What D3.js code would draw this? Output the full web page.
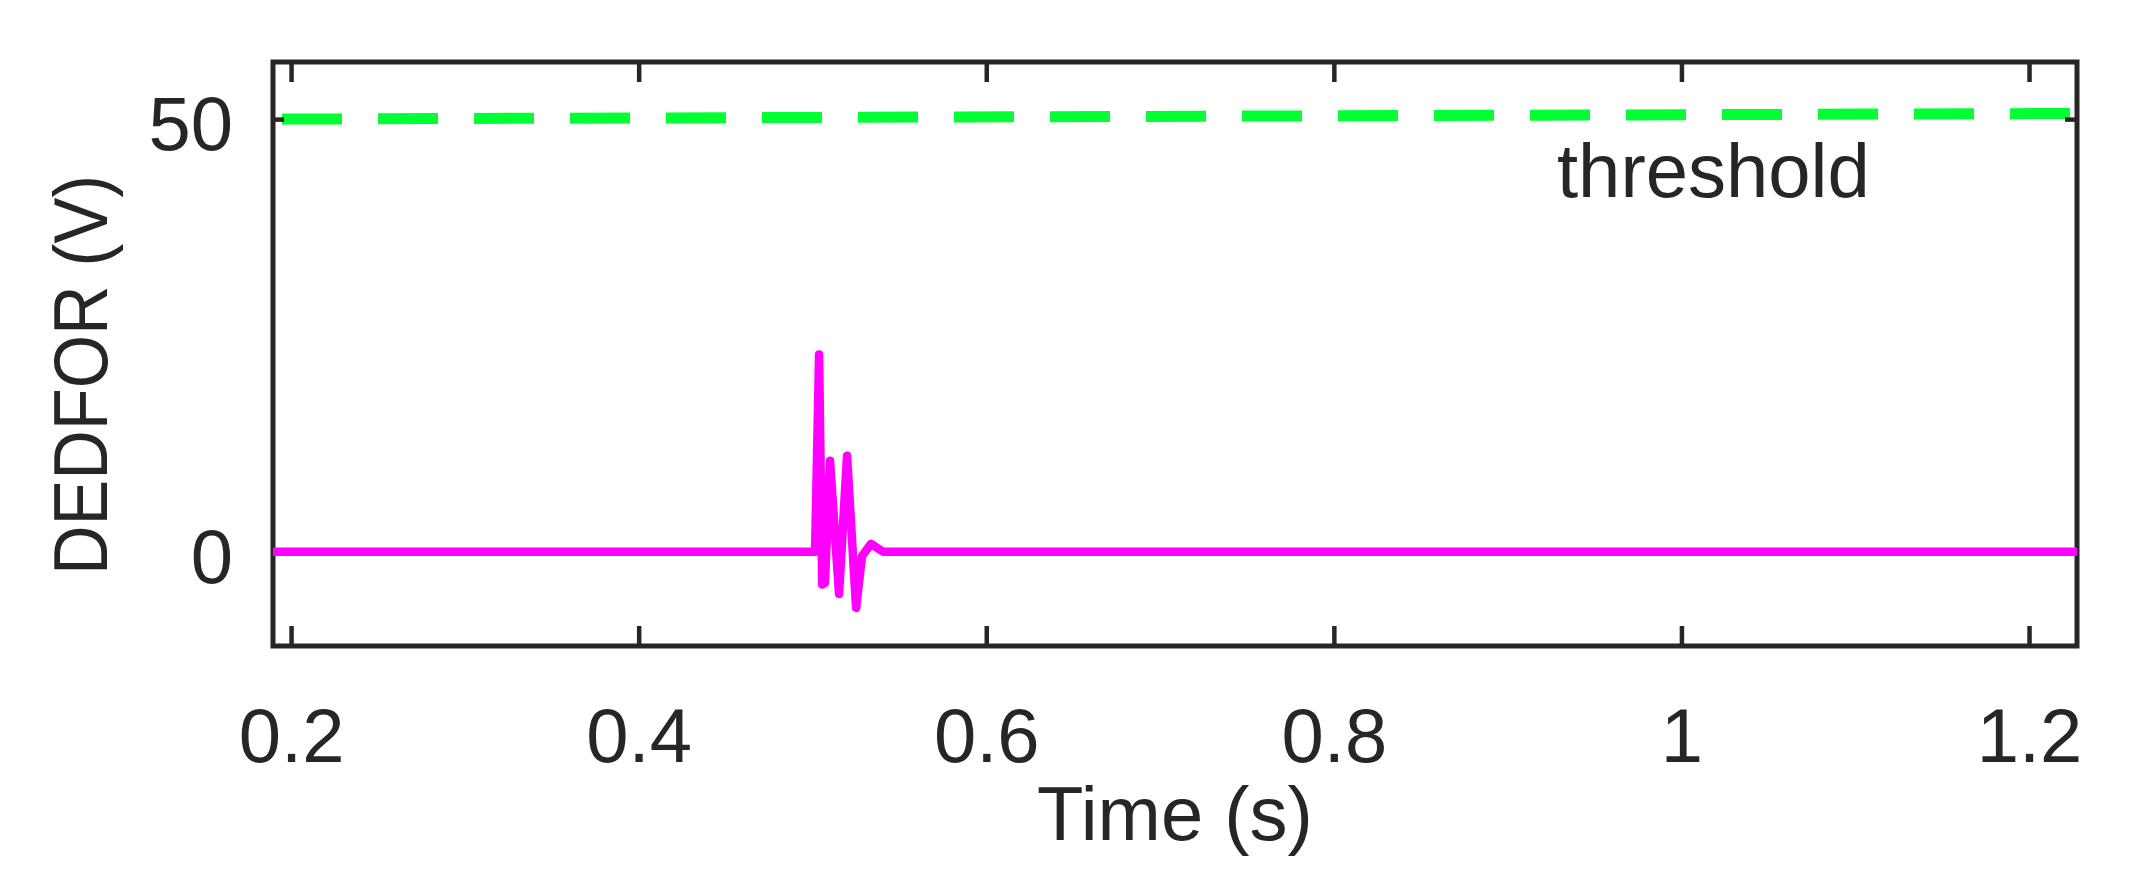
<!DOCTYPE html>
<html>
<head>
<meta charset="utf-8">
<script src="https://cdn.jsdelivr.net/npm/d3@7"></script>
<style>
  body { margin: 0; background: #fff; }
  text { font-family: "Liberation Sans", Arial, sans-serif; fill: #262626; }
</style>
</head>
<body>
<div id="chart"></div>
<script>
// axis limits and ticks
const xDomain = [0.1896, 1.2276]
const yDomain = [-10.9, 56.6]
const xTicks = [0.2, 0.4, 0.6, 0.8, 1, 1.2]
const yTicks = [0, 50]

// DEDFOR signal (V) over time (s)
const timeS = [0.1896, 0.5015, 0.5038, 0.5056, 0.5072, 0.5101, 0.5153, 0.5199, 0.5251, 0.5285, 0.5337, 0.5406, 1.2276]
const dedfor = [0, 0, 22.8, -3.8, -3.6, 10.5, -4.9, 11.1, -6.5, -0.5, 0.9, 0, 0]

// threshold line
const thrTime = [0.1896, 1.2276]
const thrValue = [50, 50.65]

const W = 2139, H = 884
const margin = {left: 273, right: 62, top: 62, bottom: 238}
const fontSize = 76

const svg = d3.select('#chart').append('svg')
  .attr('width', W)
  .attr('height', H)

const xs = d3.scaleLinear().domain(xDomain).range([margin.left, W - margin.right])
const ys = d3.scaleLinear().domain(yDomain).range([H - margin.bottom, margin.top])

const line = d3.line()
  .x((d) => xs(d[0]))
  .y((d) => ys(d[1]))

// threshold (drawn under the axes)
svg.append('path')
  .datum(d3.zip(thrTime, thrValue))
  .attr('d', line)
  .attr('fill', 'none')
  .attr('stroke', '#00ff33')
  .attr('stroke-width', 11)
  .attr('stroke-dasharray', '60 36')
  .attr('stroke-dashoffset', 87)

// frame
svg.append('rect')
  .attr('x', xs.range()[0])
  .attr('y', ys.range()[1])
  .attr('width', xs.range()[1] - xs.range()[0])
  .attr('height', ys.range()[0] - ys.range()[1])
  .attr('fill', 'none')
  .attr('stroke', '#262626')
  .attr('stroke-width', 5)

function styleAxis (g) {
  g.select('.domain').remove()
  g.selectAll('.tick line').attr('stroke', '#262626').attr('stroke-width', 4.5)
  g.selectAll('.tick text')
    .attr('fill', '#262626')
    .style('font-size', fontSize + 'px')
    .style('font-family', '"Liberation Sans", Arial, sans-serif')
}

const fmt = (d) => String(d)

// bottom x axis with labels
svg.append('g')
  .attr('transform', `translate(0,${ys.range()[0]})`)
  .call(d3.axisBottom(xs).tickValues(xTicks).tickFormat(fmt).tickSize(-20).tickPadding(62))
  .call(styleAxis)

// top x axis, ticks only
svg.append('g')
  .attr('transform', `translate(0,${ys.range()[1]})`)
  .call(d3.axisTop(xs).tickValues(xTicks).tickFormat('').tickSize(-20))
  .call(styleAxis)

// left y axis with labels
svg.append('g')
  .attr('transform', `translate(${xs.range()[0]},0)`)
  .call(d3.axisLeft(ys).tickValues(yTicks).tickFormat(fmt).tickSize(-11).tickPadding(40))
  .call(styleAxis)
  .selectAll('.tick text').attr('dy', '0.4em')

// right y axis, ticks only
svg.append('g')
  .attr('transform', `translate(${xs.range()[1]},0)`)
  .call(d3.axisRight(ys).tickValues(yTicks).tickFormat('').tickSize(-12))
  .call(styleAxis)

// signal
svg.append('path')
  .datum(d3.zip(timeS, dedfor))
  .attr('d', line)
  .attr('fill', 'none')
  .attr('stroke', '#ff00ff')
  .attr('stroke-width', 8.5)
  .attr('stroke-linejoin', 'round')

// labels
svg.append('text')
  .attr('x', (xs.range()[0] + xs.range()[1]) / 2)
  .attr('y', 840)
  .attr('text-anchor', 'middle')
  .style('font-size', fontSize + 'px')
  .text('Time (s)')

svg.append('text')
  .attr('transform', `translate(107,375) rotate(-90)`)
  .attr('text-anchor', 'middle')
  .attr('textLength', 400)
  .attr('lengthAdjust', 'spacingAndGlyphs')
  .style('font-size', fontSize + 'px')
  .text('DEDFOR (V)')

svg.append('text')
  .attr('x', 1557)
  .attr('y', 197)
  .style('font-size', fontSize + 'px')
  .text('threshold')
</script>
</body>
</html>
